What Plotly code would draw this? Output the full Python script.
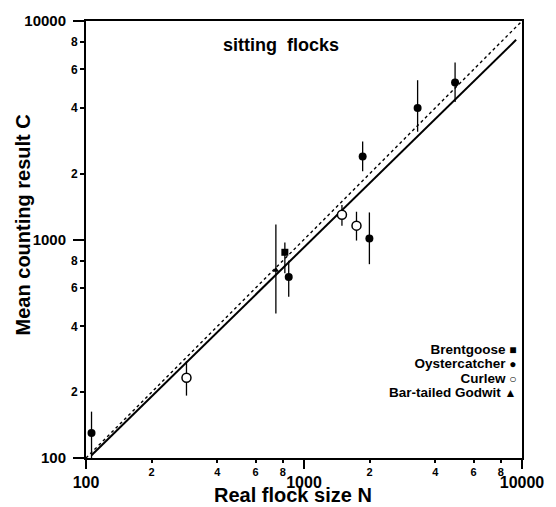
import plotly.graph_objects as go

# ---- data ----
oyster_N = [106, 851, 1858, 1995, 3320, 4932]
oyster_C = [130, 673, 2399, 1011, 4000, 5236]
oyster_hi = [163, 800, 2806, 1330, 5358, 6450]
oyster_lo = [100, 547, 2051, 771, 3113, 4254]

curlew_N = [289, 1493, 1741]
curlew_C = [233, 1297, 1157]
curlew_hi = [277, 1439, 1340]
curlew_lo = [193, 1157, 989]

brent_N = [817]
brent_C = [874]
brent_hi = [968]
brent_lo = [700]

godwit_N = [743]
godwit_C = [724]
godwit_hi = [1170]
godwit_lo = [458]

ident_N = [100, 10000]
ident_C = [100, 10000]
fit_N = [106, 9400]
fit_C = [103, 8200]

major_vals = [100, 1000, 10000]
major_text = ["100", "1000", "10000"]
minor_vals = [200, 400, 600, 800, 2000, 4000, 6000, 8000]
minor_text = ["2", "4", "6", "8", "2", "4", "6", "8"]

legend_names = ["Brentgoose", "Oystercatcher", "Curlew", "Bar-tailed Godwit"]
legend_syms = ["\u25A0", "\u25CF", "\u25CB", "\u25B2"]

FONT = "Liberation Sans, Arial, Helvetica, sans-serif"


def err(vals, hi, lo):
    return dict(type="data", symmetric=False,
                array=[h - v for h, v in zip(hi, vals)],
                arrayminus=[v - l for v, l in zip(vals, lo)],
                color="black", thickness=1.3, width=0)


fig = go.Figure()
fig.add_trace(go.Scatter(x=ident_N, y=ident_C, mode="lines",
                         line=dict(color="black", width=1.4, dash="dot"),
                         xaxis="x2", yaxis="y2", hoverinfo="skip"))
fig.add_trace(go.Scatter(x=fit_N, y=fit_C, mode="lines",
                         line=dict(color="black", width=2)))
fig.add_trace(go.Scatter(x=oyster_N, y=oyster_C, mode="markers",
                         marker=dict(symbol="circle", size=8, color="black"),
                         error_y=err(oyster_C, oyster_hi, oyster_lo)))
fig.add_trace(go.Scatter(x=curlew_N, y=curlew_C, mode="markers",
                         marker=dict(symbol="circle", size=9, color="white",
                                     line=dict(color="black", width=1.5)),
                         error_y=err(curlew_C, curlew_hi, curlew_lo)))
fig.add_trace(go.Scatter(x=brent_N, y=brent_C, mode="markers",
                         marker=dict(symbol="square", size=7, color="black"),
                         error_y=err(brent_C, brent_hi, brent_lo)))
fig.add_trace(go.Scatter(x=godwit_N, y=godwit_C, mode="markers",
                         marker=dict(symbol="triangle-up", size=6, color="black"),
                         error_y=err(godwit_C, godwit_hi, godwit_lo)))

axis_common = dict(type="log", range=[2, 4], showgrid=False, zeroline=False,
                   ticks="outside", tickcolor="black", tickwidth=1.5)

fig.update_layout(
    width=556, height=507,
    margin=dict(l=86, r=27, t=16, b=49),
    paper_bgcolor="white", plot_bgcolor="white",
    showlegend=False,
    xaxis=dict(**axis_common, tickvals=major_vals, ticktext=major_text,
               ticklen=9, showline=True, linecolor="black", linewidth=1.6,
               mirror=True,
               tickfont=dict(family=FONT, size=16, color="black", weight="bold")),
    yaxis=dict(**axis_common, tickvals=major_vals,
               ticktext=[t + "\u00a0" for t in major_text],
               ticklen=11, showline=True, linecolor="black", linewidth=1.6,
               mirror=True,
               tickfont=dict(family=FONT, size=15, color="black", weight="bold")),
    xaxis2=dict(**axis_common, overlaying="x", anchor="y2", side="bottom",
                tickvals=minor_vals, ticktext=minor_text, ticklen=4,
                showline=False,
                tickfont=dict(family=FONT, size=11, color="black", weight="bold")),
    yaxis2=dict(**axis_common, overlaying="y", anchor="x2", side="left",
                tickvals=minor_vals, ticktext=minor_text, ticklen=5,
                showline=False,
                tickfont=dict(family=FONT, size=12, color="black", weight="bold")),
)

legend_text = "<br>".join(
    "<span style='font-size:13.5px'>" + n + " </span>"
    "<span style='font-size:12px'>" + s + "</span>"
    for n, s in zip(legend_names, legend_syms))

annotations = [
    dict(text="sitting  flocks", x=0.447, y=0.946, xref="paper", yref="paper",
         showarrow=False, xanchor="center", yanchor="middle",
         font=dict(family=FONT, size=18, color="black", weight="bold")),
    dict(text="Real flock size N", x=0.474, y=-0.0837, xref="paper", yref="paper",
         showarrow=False, xanchor="center", yanchor="middle",
         font=dict(family=FONT, size=20, color="black", weight="bold")),
    dict(text="Mean counting result C", x=-0.145, y=0.534, xref="paper", yref="paper",
         showarrow=False, xanchor="center", yanchor="middle", textangle=-90,
         font=dict(family=FONT, size=20, color="black", weight="bold")),
    dict(text=legend_text, x=0.991, y=0.198, xref="paper", yref="paper",
         showarrow=False, xanchor="right", yanchor="middle", align="right",
         font=dict(family=FONT, size=11, color="black", weight="bold")),
]
fig.update_layout(annotations=annotations)

fig.write_html("out.html")
